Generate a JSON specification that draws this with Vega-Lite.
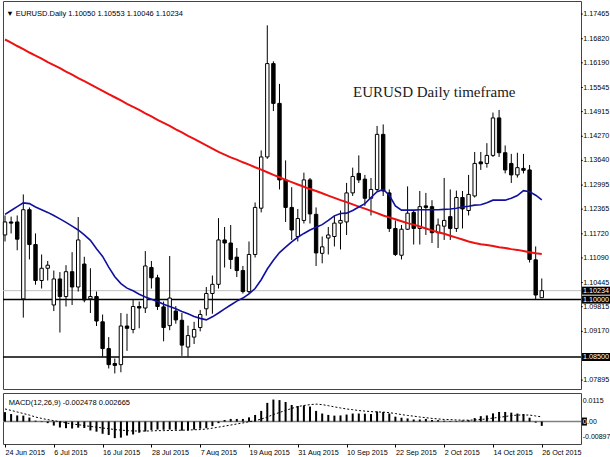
{
  "$schema": "https://vega.github.io/schema/vega-lite/v6.json",
  "padding": 0,
  "background": "white",
  "spacing": 2,
  "config": {
    "view": {"stroke": "#444", "strokeWidth": 1},
    "axis": {"labelFont": "Liberation Sans", "labelFontSize": 7.2, "labelColor": "#000", "tickColor": "#000", "domain": false, "grid": false, "title": null, "labelOverlap": false},
    "text": {"font": "Liberation Sans"}
  },
  "datasets": {
    "bars": [
      {"i":0,"o":1.1169,"h":1.1220,"l":1.1152,"c":1.1203,"r":1.1680,"b":1.1223,"m":0.0054,"s":0.0072},
      {"i":1,"o":1.1203,"h":1.1217,"l":1.1173,"c":1.1200,"r":1.1672,"b":1.1233,"m":0.0043,"s":0.0064},
      {"i":2,"o":1.1203,"h":1.1220,"l":1.1129,"c":1.1158,"r":1.1663,"b":1.1243,"m":0.0035,"s":0.0055},
      {"i":3,"o":1.1002,"h":1.1275,"l":1.0953,"c":1.1235,"r":1.1655,"b":1.1253,"m":0.0034,"s":0.0046},
      {"i":4,"o":1.1235,"h":1.1241,"l":1.1105,"c":1.1144,"r":1.1646,"b":1.1251,"m":0.0023,"s":0.0037},
      {"i":5,"o":1.1144,"h":1.1173,"l":1.1039,"c":1.1050,"r":1.1638,"b":1.1242,"m":0.0005,"s":0.0026},
      {"i":6,"o":1.1050,"h":1.1118,"l":1.1029,"c":1.1082,"r":1.1630,"b":1.1235,"m":-0.0003,"s":0.0018},
      {"i":7,"o":1.1082,"h":1.1101,"l":1.1050,"c":1.1090,"r":1.1621,"b":1.1228,"m":-0.0009,"s":0.0011},
      {"i":8,"o":1.0986,"h":1.1076,"l":1.0970,"c":1.1054,"r":1.1613,"b":1.1220,"m":-0.0023,"s":0.0005},
      {"i":9,"o":1.1054,"h":1.1072,"l":1.0914,"c":1.1008,"r":1.1605,"b":1.1211,"m":-0.0034,"s":-0.0001},
      {"i":10,"o":1.1008,"h":1.1090,"l":1.0982,"c":1.1073,"r":1.1596,"b":1.1202,"m":-0.0038,"s":-0.0008},
      {"i":11,"o":1.1073,"h":1.1124,"l":1.0986,"c":1.1033,"r":1.1588,"b":1.1192,"m":-0.0040,"s":-0.0014},
      {"i":12,"o":1.1033,"h":1.1216,"l":1.1021,"c":1.1156,"r":1.1579,"b":1.1182,"m":-0.0035,"s":-0.0018},
      {"i":13,"o":1.1093,"h":1.1112,"l":1.0993,"c":1.0999,"r":1.1571,"b":1.1169,"m":-0.0037,"s":-0.0023},
      {"i":14,"o":1.1002,"h":1.1082,"l":1.0965,"c":1.1008,"r":1.1563,"b":1.1155,"m":-0.0051,"s":-0.0028},
      {"i":15,"o":1.1008,"h":1.1021,"l":1.0931,"c":1.0944,"r":1.1554,"b":1.1133,"m":-0.0058,"s":-0.0032},
      {"i":16,"o":1.0942,"h":1.0961,"l":1.0851,"c":1.0872,"r":1.1546,"b":1.1113,"m":-0.0070,"s":-0.0037},
      {"i":17,"o":1.0872,"h":1.0902,"l":1.0820,"c":1.0830,"r":1.1537,"b":1.1085,"m":-0.0077,"s":-0.0041},
      {"i":18,"o":1.0833,"h":1.0846,"l":1.0807,"c":1.0828,"r":1.1529,"b":1.1060,"m":-0.0095,"s":-0.0046},
      {"i":19,"o":1.0830,"h":1.0965,"l":1.0810,"c":1.0931,"r":1.1521,"b":1.1042,"m":-0.0092,"s":-0.0049},
      {"i":20,"o":1.0931,"h":1.0963,"l":1.0866,"c":1.0925,"r":1.1512,"b":1.1030,"m":-0.0080,"s":-0.0052},
      {"i":21,"o":1.0922,"h":1.1001,"l":1.0912,"c":1.0982,"r":1.1504,"b":1.1023,"m":-0.0074,"s":-0.0054},
      {"i":22,"o":1.0982,"h":1.0995,"l":1.0925,"c":1.0978,"r":1.1496,"b":1.1014,"m":-0.0064,"s":-0.0054},
      {"i":23,"o":1.0978,"h":1.1127,"l":1.0965,"c":1.1088,"r":1.1487,"b":1.1007,"m":-0.0057,"s":-0.0054},
      {"i":24,"o":1.1084,"h":1.1101,"l":1.1029,"c":1.1057,"r":1.1479,"b":1.1001,"m":-0.0049,"s":-0.0054},
      {"i":25,"o":1.1057,"h":1.1065,"l":1.0973,"c":1.0982,"r":1.1470,"b":1.0995,"m":-0.0046,"s":-0.0052},
      {"i":26,"o":1.0981,"h":1.0995,"l":1.0891,"c":1.0927,"r":1.1462,"b":1.0988,"m":-0.0047,"s":-0.0052},
      {"i":27,"o":1.0932,"h":1.1114,"l":1.0920,"c":1.1004,"r":1.1454,"b":1.0982,"m":-0.0046,"s":-0.0051},
      {"i":28,"o":1.0970,"h":1.0983,"l":1.0937,"c":1.0947,"r":1.1445,"b":1.0976,"m":-0.0047,"s":-0.0051},
      {"i":29,"o":1.0946,"h":1.0965,"l":1.0853,"c":1.0881,"r":1.1437,"b":1.0969,"m":-0.0052,"s":-0.0049},
      {"i":30,"o":1.0876,"h":1.0932,"l":1.0851,"c":1.0906,"r":1.1428,"b":1.0963,"m":-0.0051,"s":-0.0049},
      {"i":31,"o":1.0902,"h":1.0942,"l":1.0884,"c":1.0922,"r":1.1420,"b":1.0956,"m":-0.0046,"s":-0.0047},
      {"i":32,"o":1.0927,"h":1.0973,"l":1.0917,"c":1.0961,"r":1.1412,"b":1.0951,"m":-0.0041,"s":-0.0046},
      {"i":33,"o":1.0976,"h":1.1033,"l":1.0958,"c":1.1016,"r":1.1403,"b":1.0947,"m":-0.0038,"s":-0.0043},
      {"i":34,"o":1.1016,"h":1.1063,"l":1.0963,"c":1.1040,"r":1.1395,"b":1.0955,"m":-0.0026,"s":-0.0038},
      {"i":35,"o":1.1040,"h":1.1213,"l":1.1029,"c":1.1156,"r":1.1386,"b":1.0965,"m":-0.0009,"s":-0.0032},
      {"i":36,"o":1.1156,"h":1.1190,"l":1.1084,"c":1.1148,"r":1.1379,"b":1.0976,"m":0.0009,"s":-0.0026},
      {"i":37,"o":1.1148,"h":1.1195,"l":1.1080,"c":1.1105,"r":1.1372,"b":1.0986,"m":0.0015,"s":-0.0020},
      {"i":38,"o":1.1111,"h":1.1135,"l":1.1059,"c":1.1076,"r":1.1366,"b":1.0996,"m":0.0015,"s":-0.0014},
      {"i":39,"o":1.1076,"h":1.1088,"l":1.1016,"c":1.1021,"r":1.1359,"b":1.1004,"m":0.0015,"s":-0.0008},
      {"i":40,"o":1.1021,"h":1.1152,"l":1.1016,"c":1.1118,"r":1.1353,"b":1.1015,"m":0.0024,"s":-0.0001},
      {"i":41,"o":1.1118,"h":1.1254,"l":1.1110,"c":1.1241,"r":1.1346,"b":1.1029,"m":0.0038,"s":0.0005},
      {"i":42,"o":1.1239,"h":1.1390,"l":1.1228,"c":1.1373,"r":1.1340,"b":1.1052,"m":0.0061,"s":0.0014},
      {"i":43,"o":1.1373,"h":1.1717,"l":1.1368,"c":1.1617,"r":1.1333,"b":1.1080,"m":0.0107,"s":0.0026},
      {"i":44,"o":1.1617,"h":1.1623,"l":1.1493,"c":1.1513,"r":1.1326,"b":1.1103,"m":0.0126,"s":0.0040},
      {"i":45,"o":1.1513,"h":1.1564,"l":1.1288,"c":1.1313,"r":1.1320,"b":1.1123,"m":0.0123,"s":0.0052},
      {"i":46,"o":1.1313,"h":1.1364,"l":1.1203,"c":1.1241,"r":1.1313,"b":1.1137,"m":0.0112,"s":0.0064},
      {"i":47,"o":1.1241,"h":1.1294,"l":1.1156,"c":1.1182,"r":1.1307,"b":1.1151,"m":0.0095,"s":0.0075},
      {"i":48,"o":1.1165,"h":1.1237,"l":1.1152,"c":1.1212,"r":1.1301,"b":1.1163,"m":0.0089,"s":0.0086},
      {"i":49,"o":1.1207,"h":1.1332,"l":1.1199,"c":1.1313,"r":1.1295,"b":1.1173,"m":0.0092,"s":0.0092},
      {"i":50,"o":1.1313,"h":1.1318,"l":1.1199,"c":1.1224,"r":1.1289,"b":1.1182,"m":0.0086,"s":0.0097},
      {"i":51,"o":1.1223,"h":1.1241,"l":1.1088,"c":1.1122,"r":1.1284,"b":1.1189,"m":0.0061,"s":0.0100},
      {"i":52,"o":1.1121,"h":1.1165,"l":1.1095,"c":1.1138,"r":1.1278,"b":1.1196,"m":0.0046,"s":0.0097},
      {"i":53,"o":1.1161,"h":1.1190,"l":1.1118,"c":1.1169,"r":1.1272,"b":1.1207,"m":0.0038,"s":0.0091},
      {"i":54,"o":1.1165,"h":1.1220,"l":1.1139,"c":1.1200,"r":1.1266,"b":1.1219,"m":0.0034,"s":0.0084},
      {"i":55,"o":1.1200,"h":1.1233,"l":1.1131,"c":1.1207,"r":1.1260,"b":1.1225,"m":0.0035,"s":0.0078},
      {"i":56,"o":1.1203,"h":1.1305,"l":1.1169,"c":1.1279,"r":1.1255,"b":1.1226,"m":0.0040,"s":0.0072},
      {"i":57,"o":1.1279,"h":1.1345,"l":1.1271,"c":1.1322,"r":1.1249,"b":1.1233,"m":0.0046,"s":0.0068},
      {"i":58,"o":1.1330,"h":1.1377,"l":1.1305,"c":1.1313,"r":1.1243,"b":1.1242,"m":0.0046,"s":0.0063},
      {"i":59,"o":1.1315,"h":1.1326,"l":1.1245,"c":1.1265,"r":1.1238,"b":1.1251,"m":0.0045,"s":0.0060},
      {"i":60,"o":1.1265,"h":1.1318,"l":1.1220,"c":1.1288,"r":1.1232,"b":1.1267,"m":0.0043,"s":0.0057},
      {"i":61,"o":1.1288,"h":1.1454,"l":1.1284,"c":1.1432,"r":1.1226,"b":1.1282,"m":0.0058,"s":0.0055},
      {"i":62,"o":1.1432,"h":1.1458,"l":1.1271,"c":1.1284,"r":1.1220,"b":1.1288,"m":0.0055,"s":0.0054},
      {"i":63,"o":1.1279,"h":1.1288,"l":1.1177,"c":1.1186,"r":1.1215,"b":1.1273,"m":0.0046,"s":0.0051},
      {"i":64,"o":1.1186,"h":1.1207,"l":1.1114,"c":1.1118,"r":1.1210,"b":1.1245,"m":0.0028,"s":0.0046},
      {"i":65,"o":1.1116,"h":1.1195,"l":1.1105,"c":1.1184,"r":1.1205,"b":1.1234,"m":0.0022,"s":0.0040},
      {"i":66,"o":1.1184,"h":1.1296,"l":1.1182,"c":1.1226,"r":1.1200,"b":1.1234,"m":0.0018,"s":0.0035},
      {"i":67,"o":1.1228,"h":1.1233,"l":1.1144,"c":1.1186,"r":1.1196,"b":1.1234,"m":0.0012,"s":0.0031},
      {"i":68,"o":1.1186,"h":1.1284,"l":1.1144,"c":1.1243,"r":1.1191,"b":1.1235,"m":0.0012,"s":0.0026},
      {"i":69,"o":1.1245,"h":1.1279,"l":1.1169,"c":1.1241,"r":1.1186,"b":1.1235,"m":0.0015,"s":0.0022},
      {"i":70,"o":1.1243,"h":1.1260,"l":1.1148,"c":1.1175,"r":1.1181,"b":1.1235,"m":0.0009,"s":0.0018},
      {"i":71,"o":1.1175,"h":1.1212,"l":1.1135,"c":1.1195,"r":1.1176,"b":1.1235,"m":0.0008,"s":0.0015},
      {"i":72,"o":1.1192,"h":1.1318,"l":1.1156,"c":1.1207,"r":1.1172,"b":1.1236,"m":0.0005,"s":0.0012},
      {"i":73,"o":1.1217,"h":1.1288,"l":1.1156,"c":1.1186,"r":1.1167,"b":1.1237,"m":0.0003,"s":0.0011},
      {"i":74,"o":1.1186,"h":1.1285,"l":1.1177,"c":1.1267,"r":1.1162,"b":1.1239,"m":0.0003,"s":0.0009},
      {"i":75,"o":1.1267,"h":1.1284,"l":1.1186,"c":1.1237,"r":1.1157,"b":1.1242,"m":0.0006,"s":0.0008},
      {"i":76,"o":1.1233,"h":1.1326,"l":1.1220,"c":1.1275,"r":1.1152,"b":1.1244,"m":0.0008,"s":0.0008},
      {"i":77,"o":1.1271,"h":1.1386,"l":1.1267,"c":1.1356,"r":1.1148,"b":1.1247,"m":0.0020,"s":0.0009},
      {"i":78,"o":1.1360,"h":1.1386,"l":1.1339,"c":1.1355,"r":1.1145,"b":1.1248,"m":0.0031,"s":0.0012},
      {"i":79,"o":1.1356,"h":1.1409,"l":1.1345,"c":1.1377,"r":1.1143,"b":1.1253,"m":0.0035,"s":0.0015},
      {"i":80,"o":1.1377,"h":1.1489,"l":1.1373,"c":1.1475,"r":1.1140,"b":1.1260,"m":0.0047,"s":0.0020},
      {"i":81,"o":1.1475,"h":1.1496,"l":1.1373,"c":1.1384,"r":1.1137,"b":1.1260,"m":0.0055,"s":0.0024},
      {"i":82,"o":1.1384,"h":1.1403,"l":1.1330,"c":1.1339,"r":1.1135,"b":1.1260,"m":0.0055,"s":0.0029},
      {"i":83,"o":1.1356,"h":1.1381,"l":1.1305,"c":1.1326,"r":1.1132,"b":1.1265,"m":0.0051,"s":0.0034},
      {"i":84,"o":1.1326,"h":1.1384,"l":1.1319,"c":1.1345,"r":1.1130,"b":1.1272,"m":0.0046,"s":0.0037},
      {"i":85,"o":1.1343,"h":1.1381,"l":1.1330,"c":1.1338,"r":1.1127,"b":1.1285,"m":0.0043,"s":0.0038},
      {"i":86,"o":1.1339,"h":1.1352,"l":1.1097,"c":1.1105,"r":1.1124,"b":1.1282,"m":0.0022,"s":0.0037},
      {"i":87,"o":1.1104,"h":1.1139,"l":1.0999,"c":1.1012,"r":1.1121,"b":1.1273,"m":-0.0006,"s":0.0032},
      {"i":88,"o":1.10050,"h":1.10553,"l":1.10046,"c":1.10234,"r":1.1119,"b":1.1261,"m":-0.002478,"s":0.002665}
    ],
    "levels": [
      {"p":1.10234,"t":"1.10234"},
      {"p":1.10000,"t":"1.10000"},
      {"p":1.08500,"t":"1.08500"}
    ],
    "ticks": [
      {"p":1.17465},{"p":1.16820},{"p":1.16190},{"p":1.15545},{"p":1.14915},
      {"p":1.14270},{"p":1.13640},{"p":1.12995},{"p":1.12365},{"p":1.11720},
      {"p":1.11090},{"p":1.10445},{"p":1.09815},{"p":1.09170},{"p":1.07895}
    ],
    "macdticks": [
      {"v":0.0115,"t":"0.0115"},
      {"v":-0.00897,"t":"-0.00897"}
    ],
    "one": [{}]
  },
  "data": {"name": "bars"},
  "resolve": {"scale": {"x": "independent", "y": "independent"}},
  "vconcat": [
    {
      "width": 578,
      "height": 388,
      "layer": [
        {
          "data": {"name": "one"},
          "mark": {"type": "rule", "color": "#c0c0c0", "strokeWidth": 1},
          "encoding": {
            "y": {"datum": 1.10234, "type": "quantitative", "scale": {"domain": [1.07794, 1.17676], "nice": false, "zero": false}, "axis": null}
          }
        },
        {
          "data": {"name": "one"},
          "mark": {"type": "rule", "color": "#000", "strokeWidth": 1.5},
          "encoding": {"y": {"datum": 1.1, "type": "quantitative"}}
        },
        {
          "data": {"name": "one"},
          "mark": {"type": "rule", "color": "#000", "strokeWidth": 1.5},
          "encoding": {"y": {"datum": 1.085, "type": "quantitative"}}
        },
        {
          "mark": {"type": "rule", "color": "#000", "strokeWidth": 1},
          "encoding": {
            "x": {"field": "i", "type": "quantitative", "scale": {"domain": [-0.33, 94.43], "nice": false, "zero": false, "padding": 0}, "axis": null},
            "y": {"field": "l", "type": "quantitative"},
            "y2": {"field": "h"}
          }
        },
        {
          "mark": {"type": "bar", "size": 3.4, "stroke": "#000", "strokeWidth": 1},
          "encoding": {
            "x": {"field": "i", "type": "quantitative"},
            "y": {"field": "o", "type": "quantitative"},
            "y2": {"field": "c"},
            "fill": {"condition": {"test": "datum.c >= datum.o", "value": "#ffffff"}, "value": "#000000"}
          }
        },
        {
          "mark": {"type": "line", "color": "#ee1111", "strokeWidth": 2},
          "encoding": {
            "x": {"field": "i", "type": "quantitative"},
            "y": {"field": "r", "type": "quantitative"}
          }
        },
        {
          "mark": {"type": "line", "color": "#1010a0", "strokeWidth": 1.6},
          "encoding": {
            "x": {"field": "i", "type": "quantitative"},
            "y": {"field": "b", "type": "quantitative"}
          }
        },
        {
          "data": {"name": "ticks"},
          "mark": {"type": "rule", "color": "#000", "strokeWidth": 1},
          "encoding": {
            "x": {"datum": 94.43, "type": "quantitative"},
            "x2": {"datum": 94.72},
            "y": {"field": "p", "type": "quantitative"}
          }
        },
        {
          "data": {"name": "ticks"},
          "mark": {"type": "text", "align": "left", "baseline": "middle", "fontSize": 7.2, "fill": "#000"},
          "encoding": {
            "x": {"datum": 94.8, "type": "quantitative"},
            "y": {"field": "p", "type": "quantitative"},
            "text": {"field": "p", "type": "quantitative", "format": ".5f"}
          }
        },
        {
          "data": {"name": "levels"},
          "mark": {"type": "bar", "orient": "horizontal", "size": 8, "fill": "#000"},
          "encoding": {
            "x": {"datum": 94.6, "type": "quantitative"},
            "x2": {"datum": 99.4},
            "y": {"field": "p", "type": "quantitative"}
          }
        },
        {
          "data": {"name": "levels"},
          "mark": {"type": "text", "align": "left", "baseline": "middle", "fontSize": 7.2, "fill": "#fff"},
          "encoding": {
            "x": {"datum": 94.75, "type": "quantitative"},
            "y": {"field": "p", "type": "quantitative"},
            "text": {"field": "t"}
          }
        },
        {
          "data": {"name": "one"},
          "mark": {"type": "text", "align": "left", "baseline": "middle", "fontSize": 7.5, "fill": "#000", "text": "▼  EURUSD.Daily  1.10050 1.10553 1.10046 1.10234"},
          "encoding": {
            "x": {"datum": 0.2, "type": "quantitative"},
            "y": {"datum": 1.1746, "type": "quantitative"}
          }
        },
        {
          "data": {"name": "one"},
          "mark": {"type": "text", "align": "left", "baseline": "middle", "font": "Liberation Serif", "fontSize": 15, "fill": "#1a1a1a", "text": "EURUSD Daily timeframe"},
          "encoding": {
            "x": {"datum": 57.05, "type": "quantitative"},
            "y": {"datum": 1.15435, "type": "quantitative"}
          }
        }
      ]
    },
    {
      "width": 578,
      "height": 51,
      "layer": [
        {
          "data": {"name": "one"},
          "mark": {"type": "rule", "color": "#808080", "strokeWidth": 1.5},
          "encoding": {
            "y": {"datum": 0, "type": "quantitative", "scale": {"domain": [-0.0100, 0.0135], "nice": false, "zero": false}, "axis": null}
          }
        },
        {
          "mark": {"type": "bar", "size": 2, "fill": "#000"},
          "encoding": {
            "x": {"field": "i", "type": "quantitative", "scale": {"domain": [-0.33, 94.43], "nice": false, "zero": false, "padding": 0},
              "axis": {"orient": "bottom", "values": [0, 8, 16, 24, 32, 40, 48, 56, 64, 72, 80, 88], "labelExpr": "['24 Jun 2015','6 Jul 2015','16 Jul 2015','28 Jul 2015','7 Aug 2015','19 Aug 2015','31 Aug 2015','10 Sep 2015','22 Sep 2015','2 Oct 2015','14 Oct 2015','26 Oct 2015'][round(datum.value / 8)]", "labelAlign": "left", "tickSize": 3, "labelPadding": 1, "labelFlush": false, "labelOverlap": false}},
            "y": {"field": "m", "type": "quantitative"},
            "y2": {"datum": 0}
          }
        },
        {
          "mark": {"type": "line", "color": "#000", "strokeWidth": 1, "strokeDash": [2, 2]},
          "encoding": {
            "x": {"field": "i", "type": "quantitative"},
            "y": {"field": "s", "type": "quantitative"}
          }
        },
        {
          "data": {"name": "one"},
          "mark": {"type": "bar", "orient": "horizontal", "size": 8, "fill": "#000"},
          "encoding": {
            "x": {"datum": 94.6, "type": "quantitative"},
            "x2": {"datum": 95.4},
            "y": {"datum": 0, "type": "quantitative"}
          }
        },
        {
          "data": {"name": "one"},
          "mark": {"type": "text", "align": "left", "baseline": "middle", "fontSize": 7, "fill": "#fff", "text": "0"},
          "encoding": {
            "x": {"datum": 94.72, "type": "quantitative"},
            "y": {"datum": 0, "type": "quantitative"}
          }
        },
        {
          "data": {"name": "one"},
          "mark": {"type": "text", "align": "left", "baseline": "middle", "fontSize": 7, "fill": "#000", "text": ".00"},
          "encoding": {
            "x": {"datum": 95.42, "type": "quantitative"},
            "y": {"datum": 0, "type": "quantitative"}
          }
        },
        {
          "data": {"name": "macdticks"},
          "mark": {"type": "text", "align": "left", "baseline": "middle", "fontSize": 7, "fill": "#000"},
          "encoding": {
            "x": {"datum": 94.72, "type": "quantitative"},
            "y": {"field": "v", "type": "quantitative"},
            "text": {"field": "t"}
          }
        },
        {
          "data": {"name": "one"},
          "mark": {"type": "text", "align": "left", "baseline": "middle", "fontSize": 7.5, "fill": "#000", "text": "MACD(12,26,9) -0.002478 0.002665"},
          "encoding": {
            "x": {"datum": 0.6, "type": "quantitative"},
            "y": {"datum": 0.0108, "type": "quantitative"}
          }
        }
      ]
    }
  ]
}
